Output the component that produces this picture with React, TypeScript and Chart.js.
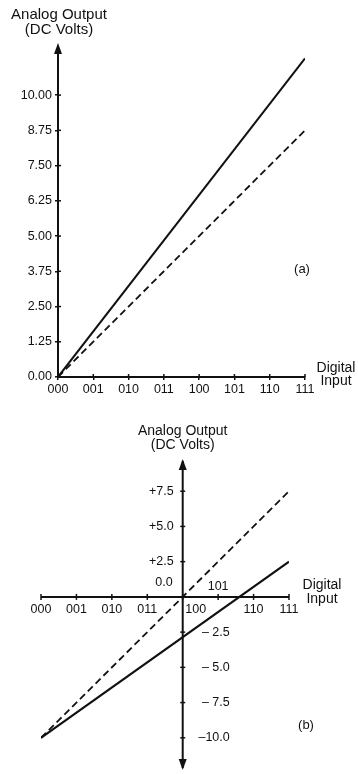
import React, { useEffect, useRef } from "react";
import { Chart, registerables } from "chart.js";
Chart.register(...registerables);

const codes = ["000", "001", "010", "011", "100", "101", "110", "111"];
const lineCodes = [0, 7];
const topSolid = [0, 11.3];
const topDashed = [0, 8.75];
const topTicks = [0, 1.25, 2.5, 3.75, 5, 6.25, 7.5, 8.75, 10];
const bottomSolid = [-10, 2.5];
const bottomDashed = [-10, 7.5];
const bottomTicks = [7.5, 5, 2.5, 0, -2.5, -5, -7.5, -10];
const bottomTickLabels = ["+7.5", "+5.0", "+2.5", "0.0", "– 2.5", "– 5.0", "– 7.5", "–10.0"];

const FONT = "'Liberation Sans', Arial, sans-serif";
const INK = "#111";

function pts(xs: number[], ys: number[]) {
  return xs.map((x, i) => ({ x, y: ys[i] }));
}

function arrow(ctx: CanvasRenderingContext2D, x: number, tipY: number, dir: number) {
  ctx.beginPath();
  ctx.moveTo(x, tipY);
  ctx.lineTo(x - 4, tipY - dir * 11);
  ctx.lineTo(x + 4, tipY - dir * 11);
  ctx.closePath();
  ctx.fill();
}

function text(ctx: CanvasRenderingContext2D, s: string, x: number, y: number, size: number, align: CanvasTextAlign) {
  ctx.font = `${size}px ${FONT}`;
  ctx.textAlign = align;
  ctx.textBaseline = "middle";
  ctx.fillText(s, x, y);
}

const topPlugin = {
  id: "topDecor",
  afterDraw(chart: any) {
    const { ctx } = chart;
    const xs = chart.scales.x;
    const ys = chart.scales.y;
    const x0 = xs.getPixelForValue(0);
    const y0 = ys.getPixelForValue(0);
    ctx.save();
    ctx.fillStyle = INK;
    ctx.strokeStyle = INK;
    ctx.lineWidth = 2;
    ctx.beginPath();
    ctx.moveTo(x0, ys.top);
    ctx.lineTo(x0, ys.top - 4);
    ctx.stroke();
    arrow(ctx, x0, ys.top - 7, -1);
    ctx.lineWidth = 1.5;
    topTicks.forEach((v) => {
      const y = ys.getPixelForValue(v);
      ctx.beginPath();
      ctx.moveTo(x0, y);
      ctx.lineTo(x0 + 3, y);
      ctx.stroke();
    });
    codes.forEach((_, i) => {
      const x = xs.getPixelForValue(i);
      ctx.beginPath();
      ctx.moveTo(x, y0);
      ctx.lineTo(x, y0 - 3);
      ctx.stroke();
    });
    text(ctx, "Analog Output", x0 + 1, 15, 15, "center");
    text(ctx, "(DC Volts)", x0 + 1, 30, 15, "center");
    text(ctx, "Digital", 336, 368, 14, "center");
    text(ctx, "Input", 336, 381, 14, "center");
    text(ctx, "(a)", 302, 269, 13, "center");
    ctx.restore();
  },
};

const bottomPlugin = {
  id: "bottomDecor",
  afterDraw(chart: any) {
    const { ctx } = chart;
    const xs = chart.scales.x;
    const ys = chart.scales.y;
    const x0 = xs.getPixelForValue(4);
    const y0 = ys.getPixelForValue(0);
    ctx.save();
    ctx.fillStyle = INK;
    ctx.strokeStyle = INK;
    ctx.lineWidth = 2;
    ctx.beginPath();
    ctx.moveTo(xs.getPixelForValue(0), y0);
    ctx.lineTo(xs.getPixelForValue(7), y0);
    ctx.stroke();
    ctx.beginPath();
    ctx.moveTo(x0, ys.top - 2);
    ctx.lineTo(x0, ys.bottom + 2);
    ctx.stroke();
    arrow(ctx, x0, ys.top - 4, -1);
    arrow(ctx, x0, ys.bottom + 4, 1);
    ctx.lineWidth = 1.5;
    codes.forEach((_, i) => {
      const x = xs.getPixelForValue(i);
      ctx.beginPath();
      ctx.moveTo(x, y0 - 3);
      ctx.lineTo(x, y0 + 3);
      ctx.stroke();
    });
    bottomTicks.forEach((v) => {
      const y = ys.getPixelForValue(v);
      ctx.beginPath();
      ctx.moveTo(x0 - 2.5, y);
      ctx.lineTo(x0 + 2.5, y);
      ctx.stroke();
    });
    bottomTicks.forEach((v, i) => {
      const y = ys.getPixelForValue(v);
      if (v > 0) text(ctx, bottomTickLabels[i], x0 - 9, y, 12.5, "right");
      else if (v === 0) text(ctx, bottomTickLabels[i], x0 - 10, y - 14, 12.5, "right");
      else text(ctx, bottomTickLabels[i], x0 + 47, y, 12.5, "right");
    });
    codes.forEach((c, i) => {
      const x = xs.getPixelForValue(i);
      if (i === 4) text(ctx, c, x + 13, y0 + 13, 12.5, "center");
      else if (i === 5) text(ctx, c, x, y0 - 10, 12.5, "center");
      else text(ctx, c, x, y0 + 13, 12.5, "center");
    });
    text(ctx, "Analog Output", x0, 31, 14, "center");
    text(ctx, "(DC Volts)", x0, 45, 14, "center");
    text(ctx, "Digital", 322, y0 - 12, 14, "center");
    text(ctx, "Input", 322, y0 + 2, 14, "center");
    text(ctx, "(b)", 306, 325, 13, "center");
    ctx.restore();
  },
};

const tickFont = { family: FONT, size: 12.5 };

function topConfig(): any {
  return {
    type: "line",
    data: {
      datasets: [
        { data: pts(lineCodes, topSolid), borderColor: INK, borderWidth: 2, pointRadius: 0, tension: 0 },
        { data: pts(lineCodes, topDashed), borderColor: INK, borderWidth: 1.8, borderDash: [7, 4], pointRadius: 0, tension: 0 },
      ],
    },
    options: {
      responsive: false,
      animation: false,
      devicePixelRatio: 1,
      layout: { padding: { left: 0, right: 53, top: 50, bottom: 0 } },
      plugins: { legend: { display: false }, tooltip: { enabled: false } },
      scales: {
        x: {
          type: "linear",
          min: 0,
          max: 7,
          afterBuildTicks: (s: any) => {
            s.ticks = codes.map((_, i) => ({ value: i }));
          },
          afterFit: (s: any) => {
            s.height = 23;
          },
          ticks: { callback: (_v: any, i: number) => codes[i], font: tickFont, color: INK, padding: 2, maxRotation: 0, autoSkip: false },
          grid: { drawOnChartArea: false, drawTicks: true, tickLength: 3, color: INK, lineWidth: 1.5 },
          border: { display: true, color: INK, width: 2 },
        },
        y: {
          type: "linear",
          min: 0,
          max: 11.6,
          afterBuildTicks: (s: any) => {
            s.ticks = topTicks.map((v) => ({ value: v }));
          },
          afterFit: (s: any) => {
            s.width = 58;
          },
          ticks: { callback: (v: any) => Number(v).toFixed(2), font: tickFont, color: INK, padding: 3, autoSkip: false },
          grid: { drawOnChartArea: false, drawTicks: true, tickLength: 3, color: INK, lineWidth: 1.5 },
          border: { display: true, color: INK, width: 2 },
        },
      },
    },
    plugins: [topPlugin],
  };
}

function bottomConfig(): any {
  return {
    type: "line",
    data: {
      datasets: [
        { data: pts(lineCodes, bottomSolid), borderColor: INK, borderWidth: 2, pointRadius: 0, tension: 0 },
        { data: pts(lineCodes, bottomDashed), borderColor: INK, borderWidth: 1.8, borderDash: [7, 4], pointRadius: 0, tension: 0 },
      ],
    },
    options: {
      responsive: false,
      animation: false,
      devicePixelRatio: 1,
      layout: { padding: { left: 41, right: 69, top: 63, bottom: 8 } },
      plugins: { legend: { display: false }, tooltip: { enabled: false } },
      scales: {
        x: { type: "linear", min: 0, max: 7, display: false },
        y: { type: "linear", min: -12, max: 9.5, display: false },
      },
    },
    plugins: [bottomPlugin],
  };
}

function ChartCanvas({ build, width, height, top }: { build: () => any; width: number; height: number; top: number }) {
  const ref = useRef<HTMLCanvasElement | null>(null);
  useEffect(() => {
    if (!ref.current) return;
    const c = new Chart(ref.current, build());
    return () => c.destroy();
  }, []);
  return (
    <canvas
      ref={ref}
      width={width}
      height={height}
      style={{ position: "absolute", left: 0, top, width, height, display: "block" }}
    />
  );
}

export default function App() {
  return (
    <div style={{ position: "fixed", left: 0, top: 0, width: 358, height: 774, background: "#fff", overflow: "hidden" }}>
      <ChartCanvas build={topConfig} width={358} height={400} top={0} />
      <ChartCanvas build={bottomConfig} width={358} height={374} top={400} />
    </div>
  );
}
